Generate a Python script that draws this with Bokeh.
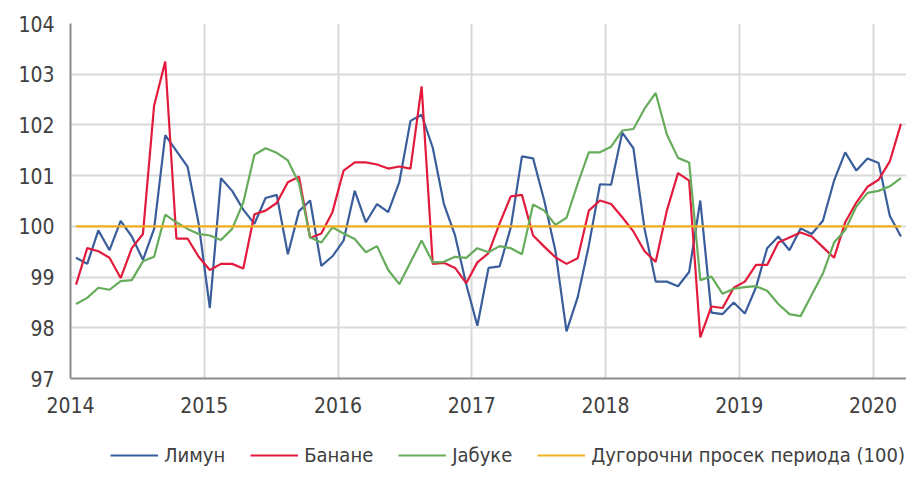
from bokeh.plotting import figure
from bokeh.models import Range1d, FixedTicker, Legend, LegendItem
from bokeh.layouts import column
from bokeh.embed import file_html
from bokeh.resources import INLINE

start_year = 2014
year_ticks = [2014, 2015, 2016, 2017, 2018, 2019, 2020]
year_labels = ["2014", "2015", "2016", "2017", "2018", "2019", "2020"]
y_ticks = [97, 98, 99, 100, 101, 102, 103, 104]

limun = [99.38, 99.26, 99.92, 99.53, 100.11, 99.80, 99.34, 99.95, 101.80, 101.49, 101.18, 100.05,
         98.39, 100.95, 100.70, 100.33, 100.05, 100.56, 100.62, 99.45, 100.30, 100.51, 99.22, 99.41,
         99.72, 100.70, 100.08, 100.44, 100.28, 100.87, 102.08, 102.20, 101.55, 100.44, 99.82, 98.86,
         98.04, 99.18, 99.21, 99.98, 101.38, 101.34, 100.51, 99.52, 97.93, 98.60, 99.62, 100.83,
         100.82, 101.85, 101.54, 99.95, 98.91, 98.91, 98.82, 99.10, 100.51, 98.30, 98.27, 98.50,
         98.28, 98.80, 99.57, 99.80, 99.53, 99.96, 99.85, 100.11, 100.90, 101.46, 101.10, 101.34,
         101.25, 100.21, 99.80]

banane = [98.85, 99.57, 99.51, 99.38, 98.98, 99.57, 99.85, 102.38, 103.25, 99.76, 99.76, 99.40,
          99.14, 99.26, 99.26, 99.17, 100.24, 100.31, 100.46, 100.87, 100.98, 99.77, 99.86, 100.28,
          101.10, 101.26, 101.26, 101.22, 101.14, 101.18, 101.14, 102.76, 99.26, 99.28, 99.18, 98.88,
          99.29, 99.47, 100.06, 100.59, 100.62, 99.82, 99.60, 99.39, 99.26, 99.37, 100.31, 100.51,
          100.44, 100.18, 99.90, 99.51, 99.30, 100.31, 101.05, 100.90, 97.81, 98.42, 98.39, 98.79,
          98.91, 99.24, 99.24, 99.68, 99.78, 99.88, 99.80, 99.59, 99.38, 100.08, 100.47, 100.78,
          100.92, 101.28, 102.02]

jabuke = [98.47, 98.59, 98.79, 98.75, 98.92, 98.94, 99.31, 99.40, 100.23, 100.08, 99.95, 99.85,
          99.82, 99.73, 99.95, 100.47, 101.41, 101.54, 101.45, 101.30, 100.85, 99.78, 99.68, 99.98,
          99.86, 99.75, 99.49, 99.61, 99.14, 98.86, 99.29, 99.72, 99.29, 99.30, 99.40, 99.38,
          99.57, 99.49, 99.61, 99.57, 99.45, 100.43, 100.31, 100.03, 100.17, 100.84, 101.46, 101.46,
          101.57, 101.89, 101.92, 102.32, 102.63, 101.81, 101.35, 101.26, 98.94, 99.01, 98.67, 98.77,
          98.80, 98.82, 98.73, 98.47, 98.27, 98.23, 98.65, 99.07, 99.68, 99.93, 100.39, 100.66,
          100.70, 100.79, 100.95]

prosek = [100.0] * len(limun)

series_names = ["Лимун", "Банане", "Јабуке", "Дугорочни просек периода (100)"]
series_colors = ["#3A5E9C", "#E21B3C", "#66AC5B", "#F2B01E"]

n = len(limun)
x = [start_year + (i + 0.5) / 12 for i in range(n)]

FONT = "DejaVu Sans Condensed, sans-serif"
TXT = "#404040"

p = figure(width=906, height=423, output_backend="svg", toolbar_location=None,
           x_range=Range1d(start_year, start_year + n / 12),
           y_range=Range1d(97, 104),
           min_border_left=70, min_border_right=0, min_border_top=23, min_border_bottom=45)
p.outline_line_color = None

for vals, col in zip([limun, banane, jabuke], series_colors[:3]):
    p.line(x, vals, line_color=col, line_width=2.2)
p.line(x, prosek, line_color=series_colors[3], line_width=2.4)

for ax in (p.xaxis[0], p.yaxis[0]):
    ax.major_tick_line_color = None
    ax.minor_tick_line_color = None
    ax.major_tick_out = 0
    ax.major_tick_in = 0
    ax.axis_line_color = "#8C8C8C"
    ax.axis_line_width = 2
    ax.major_label_text_font = FONT
    ax.major_label_text_font_size = "21px"
    ax.major_label_text_color = TXT

p.xaxis.ticker = FixedTicker(ticks=year_ticks)
p.xaxis.major_label_overrides = {t: l for t, l in zip(year_ticks, year_labels)}
p.xaxis.major_label_standoff = 18
p.yaxis.ticker = FixedTicker(ticks=y_ticks)
p.yaxis.major_label_standoff = 16

p.xgrid.ticker = FixedTicker(ticks=year_ticks)
p.xgrid.grid_line_color = "#D9D9D9"
p.xgrid.grid_line_width = 2
p.ygrid.ticker = FixedTicker(ticks=y_ticks)
p.ygrid.grid_line_color = "#D9D9D9"
p.ygrid.grid_line_width = 2

# legend strip below the chart (no axes, frame fills the strip)
lg = figure(width=906, height=46, output_backend="svg", toolbar_location=None,
            x_axis_location=None, y_axis_location=None,
            x_range=Range1d(0, 1), y_range=Range1d(0, 1),
            min_border_left=0, min_border_right=0, min_border_top=0, min_border_bottom=0)
lg.outline_line_color = None
lg.grid.visible = False
items = []
for name, col in zip(series_names, series_colors):
    r = lg.line([-5, -4], [-5, -4], line_color=col, line_width=2.2)
    items.append(LegendItem(label=name, renderers=[r]))
legend = Legend(items=items, orientation="horizontal", location=(40, 2))
legend.label_text_font = FONT
legend.label_text_font_size = "20px"
legend.label_text_color = TXT
legend.glyph_width = 48
legend.glyph_height = 20
legend.label_standoff = 6
legend.spacing = 25
legend.padding = 0
legend.margin = 0
legend.background_fill_alpha = 0
legend.border_line_color = None
lg.add_layout(legend, "center")

layout = column(p, lg, spacing=0)
open("out.html", "w").write(file_html(layout, INLINE))
